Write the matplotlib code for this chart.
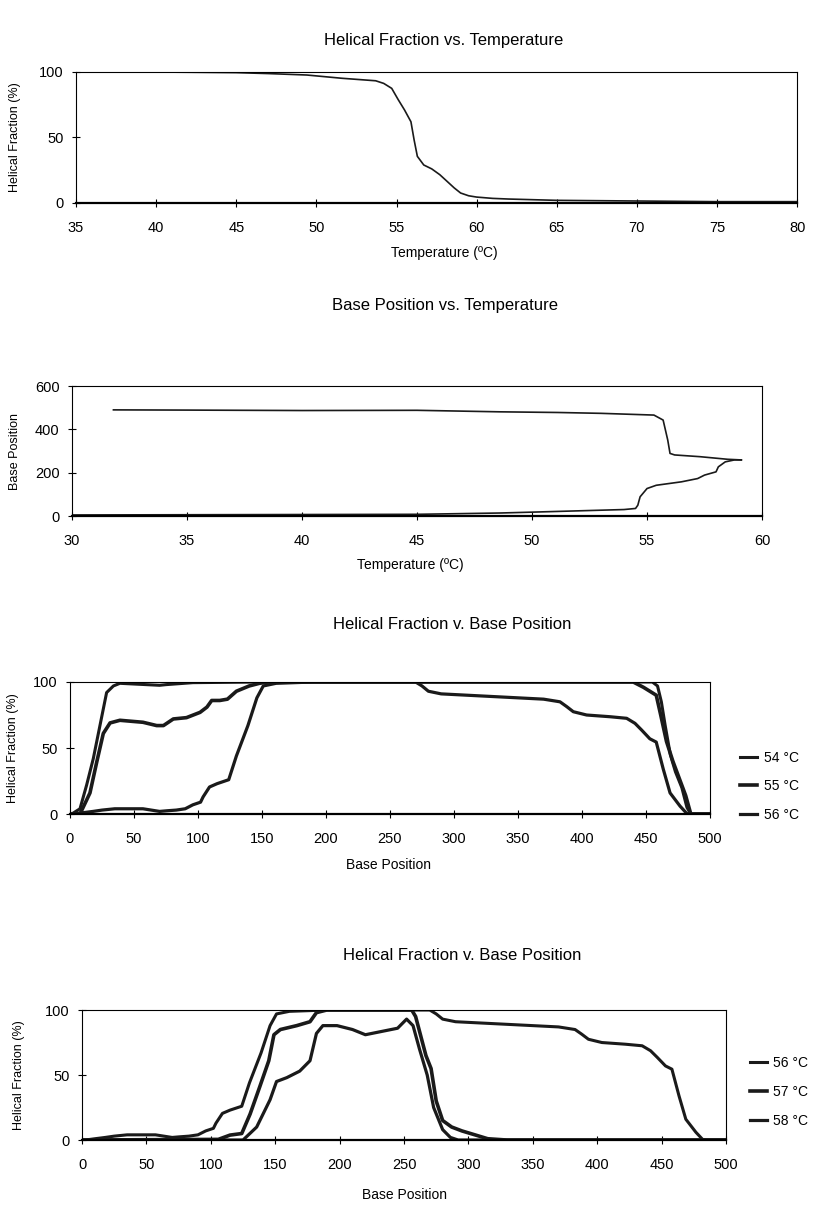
import matplotlib
matplotlib.use("Agg")
import matplotlib.pyplot as plt

plt.rcParams['font.family'] = ['Liberation Sans', 'DejaVu Sans']

# --- Panel 1: helical fraction vs temperature
t1 = [39.5, 42, 45, 47, 49.4, 51.6, 53.7, 54.2, 54.7, 55.1, 55.5, 55.9, 56.1, 56.3,
      56.7, 57.2, 57.7, 58.2, 58.6, 59.0, 59.5, 60, 61, 62, 65, 70, 75, 80]
f1 = [100, 99.8, 99.5, 98.8, 97.7, 95.2, 93.3, 91.3, 87.5, 79, 71, 62, 48, 35.6,
      29, 26, 21.6, 16, 11.5, 7.6, 5.5, 4.5, 3.5, 3, 2, 1.5, 1, 1]
t1_base = [35, 80]
f1_base = [0, 0]

# --- Panel 2: base position vs temperature (upper / lower boundary)
t2_up = [31.8, 35, 40, 45, 48.6, 51.1, 53, 55.3, 55.7, 55.9, 56.0, 56.2, 57.3, 58.5, 59.1]
p2_up = [490, 489, 487, 488, 481, 478, 474, 466, 443, 351, 289, 282, 274, 262, 259]
t2_lo = [30, 35, 40, 45, 48.6, 50, 52, 54, 54.5, 54.6, 54.65, 54.7, 55.0, 55.4, 56.5,
         57.2, 57.5, 58.0, 58.1, 58.4, 58.8, 59.1]
p2_lo = [5, 6, 7, 8, 14, 18, 24, 30, 35, 50, 70, 89, 127, 142, 158,
         173, 189, 204, 227, 250, 259, 259]

# --- Panel 3: helical fraction v. base position, 54-56 C
b54 = [0, 1.3, 7.8, 13, 18.2, 23.4, 28.6, 33.9, 39, 70, 75, 96, 150, 300, 455, 459,
       462, 465, 469, 473, 478, 482, 485, 500]
h54 = [0, 0, 4, 22, 42, 67, 92, 97, 99, 97.5, 98, 99.5, 100, 100, 100, 97,
       85, 67, 45, 32, 20, 5, 0, 0]
b55 = [0, 7.8, 15.6, 20.8, 26, 31.3, 39, 57, 67.7, 73, 80.7, 91, 101.6, 107, 110.7, 117,
       123, 130, 140, 148, 155, 300, 440, 448, 458, 461.5, 466, 471, 476, 481, 485, 500]
h55 = [0, 0, 16, 39, 61, 69, 71, 69.5, 67, 67, 72, 73, 77, 81, 86, 86,
       87, 93, 97, 99, 100, 100, 100, 96, 90, 75, 55, 40, 27, 14, 0, 0]
b56 = [0, 2.6, 10, 18, 25, 35, 57, 70, 76, 83, 90, 96, 102, 104, 109, 114.9, 124, 130,
       139, 146, 151, 161, 190, 270, 275, 280, 290, 310, 330, 350, 370, 382.8, 388, 393.2,
       403.6, 421.9, 434.9, 441.4, 446.6, 453, 458, 463.5, 468.8, 476.6, 481.8, 485, 500]
h56 = [0, 0, 1, 2, 3, 4, 4, 2, 2.5, 3, 4, 7, 9, 13, 20.5, 23, 26, 44,
       67, 88, 97, 99, 100, 100, 97, 93, 91, 90, 89, 88, 87, 85, 81.4, 77.5,
       75, 73.7, 72.5, 68.7, 63.6, 57, 54.5, 34, 16, 6, 0.5, 0, 0]

# --- Panel 4: helical fraction v. base position, 56-58 C
b57 = [0, 105.8, 114.9, 124, 130.5, 138, 145, 149, 154, 166.7, 177, 182, 190, 256, 259,
       263, 267, 271, 275, 280, 287, 295, 305, 315, 330, 500]
h57 = [0, 0.5, 3.8, 5, 20, 41, 61, 81, 85, 88, 91, 98, 100, 100, 95,
       80, 65, 55, 30, 15, 10, 7, 4, 1, 0, 0]
b58 = [0, 125, 135.6, 146, 151, 159, 169, 177, 182, 187, 198, 210, 220, 235, 245, 252,
       257, 262, 268, 273, 280, 286, 292, 500]
h58 = [0, 0, 10, 31, 45, 48, 53, 61, 82, 88, 88, 85, 81, 84, 86, 93,
       88, 70, 50, 25, 8, 2, 0, 0]

line_col = '#1a1a1a'
narrow = ['Liberation Sans Narrow', 'Liberation Sans', 'DejaVu Sans']

fig = plt.figure(figsize=(8.13, 12.06), dpi=100)


def style(ax, xlim, ylim, xticks, yticks, ylabel, ylab_x):
    ax.set_xlim(*xlim)
    ax.set_ylim(*ylim)
    ax.set_xticks(xticks)
    ax.set_yticks(yticks)
    ax.tick_params(direction='inout', length=6, width=0.8, labelsize=10.5)
    ax.tick_params(axis='x', pad=10)
    ax.tick_params(axis='y', pad=6)
    for lab in ax.get_xticklabels() + ax.get_yticklabels():
        lab.set_family(narrow)
    for s in ax.spines.values():
        s.set_linewidth(0.8)
    ax.spines['bottom'].set_linewidth(1.6)
    ax.set_ylabel(ylabel, fontsize=9)
    # label anchor is its right edge when rotated
    ax.yaxis.set_label_coords(ylab_x, 0.5)


# panel 1
ax1 = fig.add_axes([0.0935, 0.8317, 0.887, 0.1086])
ax1.plot(t1_base, f1_base, color=line_col, lw=1.4)
ax1.plot(t1, f1, color=line_col, lw=1.2)
style(ax1, (35, 80), (0, 100), range(35, 81, 5), [0, 50, 100], 'Helical Fraction (%)',
      (21 - 76) / 721)
fig.text(0.546, 0.9668, 'Helical Fraction vs. Temperature', ha='center', va='center', fontsize=12)
fig.text(0.546, 0.790, 'Temperature (ºC)', ha='center', va='center', fontsize=10, family=narrow)

# panel 2
ax2 = fig.add_axes([0.0886, 0.5721, 0.8487, 0.1078])
ax2.plot(t2_up, p2_up, color=line_col, lw=1.2)
ax2.plot(t2_lo, p2_lo, color=line_col, lw=1.2)
style(ax2, (30, 60), (0, 600), range(30, 61, 5), [0, 200, 400, 600], 'Base Position',
      (21 - 72) / 690)
fig.text(0.547, 0.747, 'Base Position vs. Temperature', ha='center', va='center', fontsize=12)
fig.text(0.505, 0.5315, 'Temperature (ºC)', ha='center', va='center', fontsize=10, family=narrow)

# panel 3
ax3 = fig.add_axes([0.0861, 0.325, 0.7872, 0.1095])
ax3.plot(b54, h54, color=line_col, lw=2.2, label='54 °C')
ax3.plot(b55, h55, color=line_col, lw=2.6, label='55 °C')
ax3.plot(b56, h56, color=line_col, lw=2.3, label='56 °C')
style(ax3, (0, 500), (0, 100), range(0, 501, 50), [0, 50, 100], 'Helical Fraction (%)',
      (19 - 70) / 640)
ax3.legend(loc='center left', bbox_to_anchor=(1.047, 0.21), frameon=False, fontsize=10,
           handlelength=1.2, handletextpad=0.5, labelspacing=1.05, borderpad=0, borderaxespad=0)
fig.text(0.556, 0.4818, 'Helical Fraction v. Base Position', ha='center', va='center', fontsize=12)
fig.text(0.478, 0.2828, 'Base Position', ha='center', va='center', fontsize=10, family=narrow)

# panel 4
ax4 = fig.add_axes([0.1009, 0.0547, 0.7921, 0.1078])
ax4.plot(b56, h56, color=line_col, lw=2.2, label='56 °C')
ax4.plot(b57, h57, color=line_col, lw=2.6, label='57 °C')
ax4.plot(b58, h58, color=line_col, lw=2.3, label='58 °C')
style(ax4, (0, 500), (0, 100), range(0, 501, 50), [0, 50, 100], 'Helical Fraction (%)',
      (25 - 82) / 644)
ax4.legend(loc='center left', bbox_to_anchor=(1.037, 0.37), frameon=False, fontsize=10,
           handlelength=1.2, handletextpad=0.5, labelspacing=1.05, borderpad=0, borderaxespad=0)
fig.text(0.568, 0.2081, 'Helical Fraction v. Base Position', ha='center', va='center', fontsize=12)
fig.text(0.497, 0.0091, 'Base Position', ha='center', va='center', fontsize=10, family=narrow)

fig.savefig('out.png', dpi=100)
